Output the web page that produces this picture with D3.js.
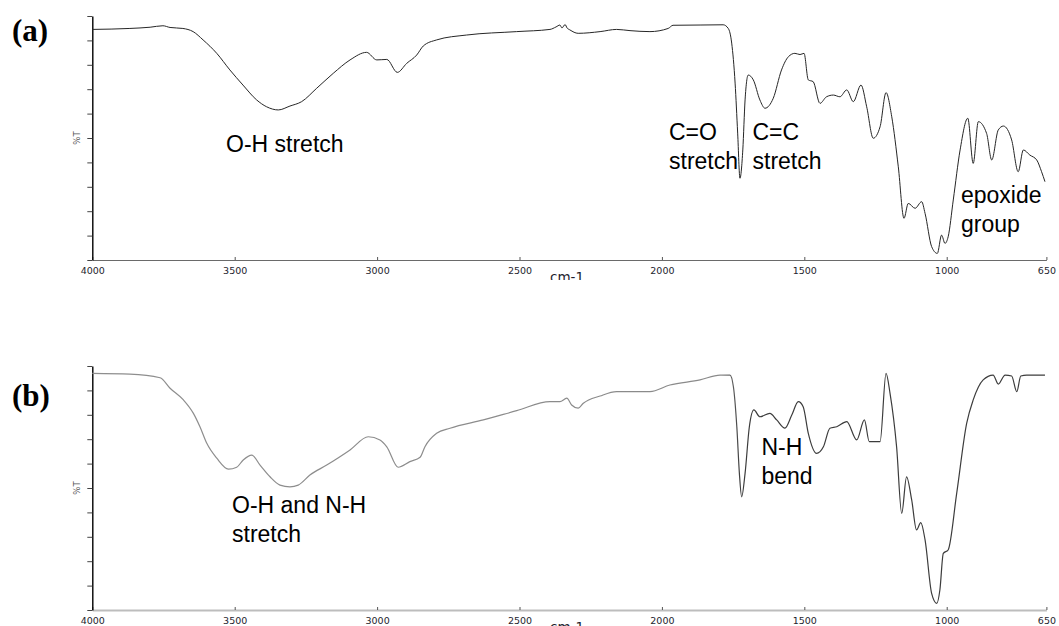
<!DOCTYPE html>
<html>
<head>
<meta charset="utf-8">
<script src="https://cdn.jsdelivr.net/npm/d3@7"></script>
<style>
  html, body { margin: 0; padding: 0; background: #fff; }
  svg { display: block; }
</style>
</head>
<body>
<svg id="chart" width="1059" height="626"></svg>
<script>
// FTIR spectra: wavenumber (cm-1) vs transmittance (%T)

// Spectrum (a)
const wavenumberA = [4000, 3868, 3797, 3752, 3727, 3682, 3646, 3611, 3563, 3517, 3471, 3423, 3388, 3347, 3306, 3265,
  3212, 3154, 3095, 3037, 3001, 2966, 2929, 2896, 2861, 2838, 2791, 2686, 2510, 2393, 2372, 2358, 2351, 2340, 2333,
  2323, 2294, 2217, 2159, 2112, 2042, 1978, 1961, 1866, 1785, 1767, 1755, 1743, 1734, 1726, 1716, 1708, 1697, 1679,
  1656, 1638, 1609, 1580, 1556, 1533, 1515, 1501, 1486, 1469, 1445, 1422, 1398, 1375, 1351, 1328, 1301, 1281, 1258,
  1234, 1213, 1193, 1170, 1150, 1135, 1111, 1088, 1076, 1053, 1033, 1018, 1006, 995, 977, 953, 926, 907, 889, 860,
  842, 819, 801, 772, 749, 731, 708, 684, 667, 655];
const transmittanceA = [94.5, 94.9, 95.4, 96.0, 95.3, 94.9, 93.6, 90.2, 84.7, 77.9, 71.7, 65.6, 62.8, 61.5, 63.1, 64.9,
  70.4, 76.5, 82.0, 85.1, 82.0, 82.2, 76.9, 80.6, 84.0, 87.7, 90.2, 92.2, 93.6, 94.5, 95.5, 96.3, 95.1, 96.5, 95.1,
  94.3, 92.9, 93.6, 94.5, 94.0, 93.6, 94.9, 96.2, 96.3, 96.4, 94.9, 88.9, 72.5, 52.0, 33.5, 45.1, 65.6, 75.8, 73.8,
  65.6, 62.2, 66.3, 77.9, 83.3, 84.7, 84.2, 84.7, 73.8, 73.1, 64.2, 66.9, 67.6, 66.9, 69.7, 64.9, 71.7, 62.8, 49.9,
  54.6, 68.6, 58.7, 38.2, 17.1, 23.2, 21.2, 23.9, 19.1, 5.5, 2.7, 10.2, 6.8, 9.5, 24.6, 45.1, 58.1, 39.6, 56.7, 51.9,
  41.0, 53.3, 54.9, 49.2, 36.2, 45.1, 43.0, 41.0, 36.2, 32.1];

// Spectrum (b)
const wavenumberB = [4000, 3868, 3762, 3727, 3680, 3645, 3622, 3598, 3563, 3522, 3493, 3470, 3440, 3411, 3376, 3341,
  3306, 3277, 3236, 3177, 3095, 3031, 2990, 2966, 2926, 2885, 2849, 2832, 2791, 2744, 2627, 2510, 2393, 2358, 2334,
  2317, 2294, 2276, 2217, 2159, 2042, 1972, 1866, 1796, 1761, 1749, 1737, 1728, 1720, 1708, 1693, 1677, 1656, 1621,
  1597, 1568, 1544, 1521, 1504, 1486, 1457, 1433, 1410, 1386, 1351, 1316, 1289, 1272, 1234, 1213, 1199, 1176, 1158,
  1141, 1123, 1106, 1091, 1076, 1053, 1035, 1024, 1012, 995, 965, 930, 907, 872, 837, 819, 795, 772, 754, 740, 719, 655];
const transmittanceB = [97.0, 96.7, 95.2, 90.9, 86.1, 80.6, 75.1, 68.3, 62.2, 57.7, 58.5, 61.5, 63.5, 59.4, 54.6, 51.2,
  50.5, 51.2, 55.3, 59.4, 65.6, 71.0, 69.7, 66.9, 58.5, 60.8, 62.6, 66.9, 72.4, 74.5, 77.9, 81.7, 85.4, 85.4, 86.8,
  84.0, 82.7, 84.7, 87.7, 89.5, 89.5, 92.2, 94.3, 96.3, 96.3, 91.5, 75.1, 56.0, 46.4, 56.0, 75.1, 82.0, 79.2, 80.6,
  77.9, 74.5, 79.9, 85.4, 83.3, 72.4, 64.2, 66.9, 74.5, 75.1, 77.2, 69.7, 77.9, 69.0, 69.0, 97.0, 88.8, 66.9, 39.6,
  54.6, 45.1, 32.8, 35.8, 28.7, 6.8, 2.7, 8.2, 23.2, 24.6, 47.8, 76.5, 86.1, 94.3, 96.3, 92.6, 96.3, 95.9, 89.5, 95.9,
  96.3, 96.3];

// Axis ticks
const xTickValues = [4000, 3500, 3000, 2500, 2000, 1500, 1000, 650];
const yTickValues = [0, 10, 20, 30, 40, 50, 60, 70, 80, 90, 100];

// Band assignments
const bandLabelsA = [["O-H stretch"], ["C=O", "stretch"], ["C=C", "stretch"], ["epoxide", "group"]];
const bandLabelsB = [["O-H and N-H", "stretch"], ["N-H", "bend"]];

const svg = d3.select("#chart");

const x = d3.scaleLinear().domain([4000, 650]).range([92.3, 1046.4]);

const panels = [
  {
    id: "a", tag: "(a)", tagY: 41, top: 16, bottom: 260,
    wn: wavenumberA, tr: transmittanceA,
    stroke: "#262626", strokeWidth: 1,
    xAxisColor: "#6a6a6a", xAxisWidth: 1.2,
    labels: bandLabelsA,
    labelPos: [[226, 152], [669, 140], [752.5, 140], [961, 203]],
    unitY: 281.5, clipBottom: 280
  },
  {
    id: "b", tag: "(b)", tagY: 406, top: 366, bottom: 610,
    wn: wavenumberB, tr: transmittanceB,
    stroke: "url(#gradB)", strokeWidth: 1.2,
    xAxisColor: "#bdbdbd", xAxisWidth: 2,
    labels: bandLabelsB,
    labelPos: [[232, 513], [761.5, 455]],
    unitY: 631.5, clipBottom: 626
  }
];

const defs = svg.append("defs");
const grad = defs.append("linearGradient")
  .attr("id", "gradB").attr("gradientUnits", "userSpaceOnUse")
  .attr("x1", 92).attr("x2", 1046).attr("y1", 0).attr("y2", 0);
[[0, "#8e8e8e"], [0.66, "#8a8a8a"], [0.68, "#3c3c3c"], [1, "#3c3c3c"]].forEach(([o, c]) =>
  grad.append("stop").attr("offset", o).attr("stop-color", c));

panels.forEach(p => {
  const y = d3.scaleLinear().domain([0, 100]).range([p.bottom, p.top]);
  const g = svg.append("g").attr("class", "panel-" + p.id);

  defs.append("clipPath").attr("id", "clip-" + p.id)
    .append("rect").attr("x", 0).attr("y", p.top - 20).attr("width", 1059).attr("height", p.clipBottom - p.top + 20);

  // x axis
  const xAxis = g.append("g")
    .attr("transform", `translate(0,${p.bottom})`)
    .call(d3.axisBottom(x).tickValues(xTickValues).tickSize(-3).tickSizeOuter(0).tickPadding(7).tickFormat(d3.format("d")));
  xAxis.select(".domain").attr("stroke", p.xAxisColor).attr("stroke-width", p.xAxisWidth);
  xAxis.selectAll(".tick line").attr("stroke", "#555");
  xAxis.selectAll(".tick text")
    .attr("font-family", "DejaVu Sans, Verdana, sans-serif")
    .attr("font-size", 9.5).attr("fill", "#1e1e2e");

  // y axis (no labels)
  const yAxis = g.append("g")
    .attr("transform", `translate(${x(4000)},0)`)
    .call(d3.axisLeft(y).tickValues(yTickValues).tickSize(5).tickSizeOuter(0).tickFormat(""));
  yAxis.select(".domain").attr("stroke", "#000").attr("stroke-width", 1.4);
  yAxis.selectAll(".tick line").attr("stroke", "#444");

  // %T label
  g.append("text")
    .attr("transform", `translate(80,${(p.top + p.bottom) / 2}) rotate(-90)`)
    .attr("text-anchor", "middle")
    .attr("font-family", "DejaVu Sans, sans-serif").attr("font-size", 8.5)
    .attr("fill", "#555").text("%T");

  // unit label, cut at the lower edge of the panel
  g.append("text")
    .attr("clip-path", `url(#clip-${p.id})`)
    .attr("x", 550).attr("y", p.unitY)
    .attr("font-family", "DejaVu Sans, Verdana, sans-serif").attr("font-size", 13.5)
    .attr("fill", "#1e1e2e").text("cm-1");

  // spectrum
  const pts = p.wn.map((w, i) => [w, p.tr[i]]);
  g.append("path")
    .datum(pts)
    .attr("fill", "none")
    .attr("stroke", p.stroke)
    .attr("stroke-width", p.strokeWidth)
    .attr("stroke-linejoin", "round")
    .attr("d", d3.line().x(d => x(d[0])).y(d => y(d[1])).curve(d3.curveMonotoneX));

  // panel tag
  g.append("text")
    .attr("x", 12).attr("y", p.tagY)
    .attr("font-family", "Liberation Serif, Times New Roman, serif")
    .attr("font-weight", "bold").attr("font-size", 31)
    .attr("fill", "#000").text(p.tag);

  // band labels
  p.labels.forEach((lines, i) => {
    const [lx, ly] = p.labelPos[i];
    const t = g.append("text")
      .attr("font-family", "Liberation Sans, Arial, sans-serif")
      .attr("font-size", 23).attr("fill", "#000");
    lines.forEach((s, j) => t.append("tspan").attr("x", lx).attr("y", ly + j * 29).text(s));
  });
});
</script>
</body>
</html>
